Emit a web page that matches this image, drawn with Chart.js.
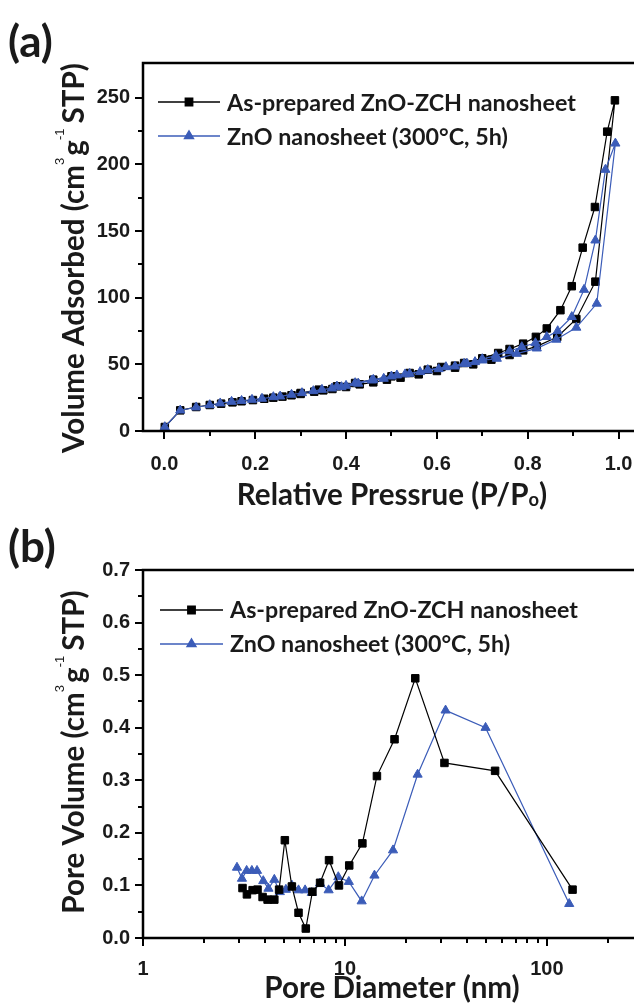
<!DOCTYPE html>
<html><head><meta charset="utf-8">
<script src="https://cdn.jsdelivr.net/npm/chart.js@4.4.1/dist/chart.umd.min.js"></script>
<style>
html,body{margin:0;padding:0;background:#fff;overflow:hidden;width:634px;height:1007px;}
canvas{position:absolute;left:0;}
#ca{top:0;}
#cb{top:520px;}
</style></head><body>
<canvas id="ca" width="634" height="520"></canvas>
<canvas id="cb" width="634" height="487"></canvas>
<script>
// ---------- Data (a): N2 isotherms ----------
const seriesNames = ['As-prepared ZnO-ZCH nanosheet', 'ZnO nanosheet (300°C, 5h)'];
const zchIsoP = [0.001,0.035,0.07,0.10,0.125,0.15,0.17,0.195,0.22,0.24,0.26,0.28,0.30,0.33,0.35,0.37,0.40,0.43,0.46,0.49,0.52,0.56,0.60,0.64,0.68,0.72,0.76,0.79,0.82,0.865,0.907,0.949,0.992,
                 0.975,0.948,0.921,0.897,0.872,0.842,0.818,0.79,0.76,0.735,0.70,0.66,0.64,0.61,0.58,0.54,0.50,0.46,0.42,0.38,0.34,0.30];
const zchIsoV = [3,15.5,18,19.5,20.5,21.5,22.3,23.2,24.2,25,25.8,26.8,27.8,29.5,30.5,31.5,33,35,36.5,38.5,40,42.5,45,47.5,50,53.5,57,60.5,63.5,70.5,84,112,248,
                 224.5,168,137.5,108.6,90.6,76.9,70.6,65.5,61.5,58.5,54.5,51,49,48,46,43.5,41,38.5,36,33.5,31,28.5];
const znoIsoP = [0.001,0.035,0.07,0.10,0.123,0.148,0.17,0.193,0.215,0.24,0.255,0.28,0.303,0.328,0.347,0.369,0.39,0.40,0.427,0.457,0.483,0.512,0.53,0.563,0.58,0.604,0.64,0.666,0.70,0.732,0.776,0.82,0.863,0.907,0.952,0.993,
                 0.971,0.949,0.924,0.897,0.866,0.842,0.817,0.787,0.76,0.73,0.70,0.684,0.66,0.62,0.58,0.54,0.50,0.46,0.42,0.38];
const znoIsoV = [3,15.5,17.8,19.5,20.8,22,22.7,23.5,24.3,25.5,26,27.3,28.5,30,31,32,33,34,35.6,38,39.3,41.8,42.6,44.3,45.6,46.5,48.5,50.5,53,54.3,58,62,68.6,77.6,95.6,215.7,
                 196,143,106,85.6,75,70.6,66,63,60,56.5,54,51.8,50.5,48,45.8,43,41,38.5,36,33.5];
const aXTicks = [0,0.2,0.4,0.6,0.8,1.0];
const aXLabels = ['0.0','0.2','0.4','0.6','0.8','1.0'];
const aXMinor = [0.1,0.3,0.5,0.7,0.9];
const aYTicks = [0,50,100,150,200,250];
const aYLabels = ['0','50','100','150','200','250'];
const aYMinor = [25,75,125,175,225];

// ---------- Data (b): pore size distribution ----------
const zchPoreD = [3.11,3.27,3.49,3.69,3.91,4.14,4.47,4.72,5.04,5.46,5.89,6.4,6.9,7.53,8.34,9.34,10.5,12.2,14.4,17.6,22.3,31.1,55.4,134];
const zchPoreV = [0.095,0.083,0.091,0.092,0.078,0.073,0.073,0.092,0.186,0.098,0.048,0.018,0.088,0.105,0.148,0.10,0.138,0.18,0.308,0.378,0.494,0.333,0.318,0.092];
const znoPoreD = [2.92,3.09,3.26,3.46,3.67,3.94,4.18,4.47,4.76,5.1,5.46,5.89,6.35,6.85,7.53,8.3,9.27,10.45,12.1,14.0,17.3,22.9,31.5,49.7,129];
const znoPoreV = [0.134,0.113,0.128,0.128,0.128,0.1085,0.094,0.111,0.0876,0.092,0.1,0.091,0.091,0.086,0.104,0.091,0.116,0.107,0.070,0.119,0.167,0.311,0.433,0.40,0.065];
const bXTicks = [1,10,100];
const bXLabels = ['1','10','100'];
const bXMinor = [2,3,4,5,6,7,8,9,20,30,40,50,60,70,80,90,200];
const bYTicks = [0,0.1,0.2,0.3,0.4,0.5,0.6,0.7];
const bYLabels = ['0.0','0.1','0.2','0.3','0.4','0.5','0.6','0.7'];
const bYMinor = [0.05,0.15,0.25,0.35,0.45,0.55,0.65];

// ---------- Styling ----------
const BLACK = '#000000';
const BLUE = '#3b5cb8';
const TITLE_FONT = 'Lato';
const TICK_FONT = '"Liberation Sans", Arial, sans-serif';

const pts = (xs, ys) => xs.map((x, i) => ({x, y: ys[i]}));

function fitSize(ctx, text, family, weight, target) {
  ctx.font = weight + ' 100px ' + family;
  return 100 * target / ctx.measureText(text).width;
}

function drawRich(ctx, segs, cx, cy, rotate) {
  ctx.save();
  ctx.translate(cx, cy);
  if (rotate) ctx.rotate(-Math.PI / 2);
  let total = 0;
  segs.forEach(s => { ctx.font = s.font; s.w = ctx.measureText(s.t).width + (s.gap || 0); total += s.w; });
  let x = -total / 2;
  ctx.fillStyle = '#1a1a1a';
  ctx.textBaseline = 'alphabetic';
  ctx.textAlign = 'left';
  segs.forEach(s => { ctx.font = s.font; ctx.fillText(s.t, x, s.dy || 0); x += s.w; });
  ctx.restore();
}

const framePlugin = {
  id: 'frame',
  afterDraw(chart, args, o) {
    const ctx = chart.ctx;
    const {left, right, top, bottom} = chart.chartArea;
    const xs = chart.scales.x, ys = chart.scales.y;
    ctx.save();
    ctx.strokeStyle = '#000';
    ctx.lineCap = 'butt';
    // ticks
    ctx.lineWidth = 2;
    ctx.beginPath();
    o.xMajor.forEach(v => { const p = Math.round(xs.getPixelForValue(v)); ctx.moveTo(p, bottom); ctx.lineTo(p, bottom + 8); });
    o.xMinor.forEach(v => { const p = Math.round(xs.getPixelForValue(v)); if (p <= right) { ctx.moveTo(p, bottom); ctx.lineTo(p, bottom + 5); } });
    o.yMajor.forEach(v => { const p = Math.round(ys.getPixelForValue(v)); ctx.moveTo(left, p); ctx.lineTo(left - 8, p); });
    o.yMinor.forEach(v => { const p = Math.round(ys.getPixelForValue(v)); ctx.moveTo(left, p); ctx.lineTo(left - 5, p); });
    ctx.stroke();
    // axes frame (left, bottom, top)
    ctx.lineWidth = 2.5;
    ctx.beginPath();
    ctx.moveTo(right, top); ctx.lineTo(left, top); ctx.lineTo(left, bottom); ctx.lineTo(right, bottom);
    ctx.stroke();

    // legend
    const lf = fitSize(ctx, seriesNames[0], TITLE_FONT, 'bold', o.legendW);
    o.legend.forEach((e, i) => {
      const y = o.legendY[i];
      ctx.strokeStyle = e.color; ctx.lineWidth = 1.3;
      ctx.beginPath(); ctx.moveTo(o.legendX[0], y); ctx.lineTo(o.legendX[1], y); ctx.stroke();
      ctx.fillStyle = e.color; ctx.strokeStyle = e.color;
      Chart.helpers.drawPoint(ctx, {pointStyle: e.style, radius: 5.3, borderWidth: 1}, (o.legendX[0] + o.legendX[1]) / 2, y);
      ctx.fillStyle = '#1a1a1a';
      ctx.font = 'bold ' + lf.toFixed(2) + 'px ' + TITLE_FONT;
      ctx.textBaseline = 'middle'; ctx.textAlign = 'left';
      ctx.fillText(e.label, o.legendX[2], y + 1);
    });

    // titles
    const ts = o.titleSize;
    const mainF = 'bold ' + ts + 'px ' + TITLE_FONT;
    const supF = '13px "Liberation Sans", Arial, sans-serif';
    drawRich(ctx, o.xTitle.map(s => ({t: s.t, font: s.small ? 'bold ' + (ts * 0.62).toFixed(1) + 'px ' + TITLE_FONT : mainF, dy: s.small ? 1 : 0})), o.xTitlePos[0], o.xTitlePos[1], false);
    drawRich(ctx, o.yTitle.map(s => ({t: s.t, font: s.sup ? supF : mainF, dy: s.sup ? -ts * 0.66 : 0, gap: s.gap || 0})), o.yTitlePos[0], o.yTitlePos[1], true);

    // panel label
    ctx.fillStyle = '#1a1a1a';
    ctx.font = 'bold 44px ' + TITLE_FONT;
    ctx.textBaseline = 'alphabetic'; ctx.textAlign = 'left';
    ctx.fillText(o.panel, o.panelPos[0], o.panelPos[1]);
    ctx.restore();
  }
};

function lineDS(label, data, color, style, order) {
  return {label, data, showLine: true, borderColor: color, backgroundColor: color, borderWidth: 1.2,
          pointStyle: style, pointRadius: 5.3, pointBorderWidth: 1, pointBackgroundColor: color,
          pointBorderColor: color, order, tension: 0};
}

function axisCommon(ticksArr, labels, pad) {
  return {
    grid: {display: false, drawTicks: true, tickLength: 8},
    border: {display: false},
    afterBuildTicks: s => { s.ticks = ticksArr.map(v => ({value: v})); },
    ticks: {autoSkip: false, maxRotation: 0, padding: pad, color: '#1a1a1a',
            font: {family: TICK_FONT, weight: 'bold', size: 20},
            callback: (v, i) => labels[i]}
  };
}

const mctx = document.createElement('canvas').getContext('2d');
const titleSize = Math.round(fitSize(mctx, 'Relative Pressrue (P/P)', TITLE_FONT, 'bold', 300) * 10) / 10;

// ---------- Chart (a) ----------
new Chart(document.getElementById('ca'), {
  type: 'scatter',
  data: {datasets: [
    lineDS(seriesNames[0], pts(zchIsoP, zchIsoV), BLACK, 'rect', 2),
    lineDS(seriesNames[1], pts(znoIsoP, znoIsoV), BLUE, 'triangle', 1)
  ]},
  options: {
    responsive: false, animation: false, devicePixelRatio: 1,
    layout: {padding: {left: 0, right: 0, top: 63, bottom: 0}, autoPadding: false},
    plugins: {legend: {display: false}, tooltip: {enabled: false},
      frame: {
        xMajor: aXTicks, xMinor: aXMinor, yMajor: aYTicks, yMinor: aYMinor,
        legend: [{label: seriesNames[0], color: BLACK, style: 'rect'}, {label: seriesNames[1], color: BLUE, style: 'triangle'}],
        legendX: [158, 220, 227], legendY: [102, 136], legendW: 349,
        titleSize,
        xTitle: [{t: 'Relative Pressrue (P/P'}, {t: 'o', small: true}, {t: ')'}],
        xTitlePos: [392, 505],
        yTitle: [{t: 'Volume Adsorbed (cm'}, {t: '3', sup: true, gap: 2}, {t: 'g'}, {t: '-1', sup: true, gap: 5}, {t: 'STP)'}],
        yTitlePos: [84, 258],
        panel: '(a)', panelPos: [8, 57]
      }},
    scales: {
      x: Object.assign(axisCommon(aXTicks, aXLabels, 13), {type: 'linear', min: -0.047, max: 1.034,
          afterFit: s => { s.height = 520 - 431; s.paddingLeft = 0; s.paddingRight = 0; }}),
      y: Object.assign(axisCommon(aYTicks, aYLabels, 5), {type: 'linear', min: 0, max: 276,
          afterFit: s => { s.width = 143; s.paddingTop = 0; s.paddingBottom = 0; }})
    }
  },
  plugins: [framePlugin]
});

// ---------- Chart (b) ----------
new Chart(document.getElementById('cb'), {
  type: 'scatter',
  data: {datasets: [
    lineDS(seriesNames[0], pts(zchPoreD, zchPoreV), BLACK, 'rect', 1),
    lineDS(seriesNames[1], pts(znoPoreD, znoPoreV), BLUE, 'triangle', 2)
  ]},
  options: {
    responsive: false, animation: false, devicePixelRatio: 1,
    layout: {padding: {left: 0, right: 0, top: 50, bottom: 0}, autoPadding: false},
    plugins: {legend: {display: false}, tooltip: {enabled: false},
      frame: {
        xMajor: bXTicks, xMinor: bXMinor, yMajor: bYTicks, yMinor: bYMinor,
        legend: [{label: seriesNames[0], color: BLACK, style: 'rect'}, {label: seriesNames[1], color: BLUE, style: 'triangle'}],
        legendX: [160, 223, 230], legendY: [90, 124], legendW: 348,
        titleSize,
        xTitle: [{t: 'Pore Diameter (nm)'}],
        xTitlePos: [392, 478],
        yTitle: [{t: 'Pore Volume (cm'}, {t: '3', sup: true, gap: 2}, {t: 'g'}, {t: '-1', sup: true, gap: 5}, {t: 'STP)'}],
        yTitlePos: [84, 232],
        panel: '(b)', panelPos: [8, 42]
      }},
    scales: {
      x: Object.assign(axisCommon(bXTicks, bXLabels, 11), {type: 'logarithmic', min: 1, max: 270,
          afterFit: s => { s.height = 487 - 418; s.paddingLeft = 0; s.paddingRight = 0; }}),
      y: Object.assign(axisCommon(bYTicks, bYLabels, 5), {type: 'linear', min: 0, max: 0.7,
          afterFit: s => { s.width = 143; s.paddingTop = 0; s.paddingBottom = 0; }})
    }
  },
  plugins: [framePlugin]
});
</script>
</body></html>
